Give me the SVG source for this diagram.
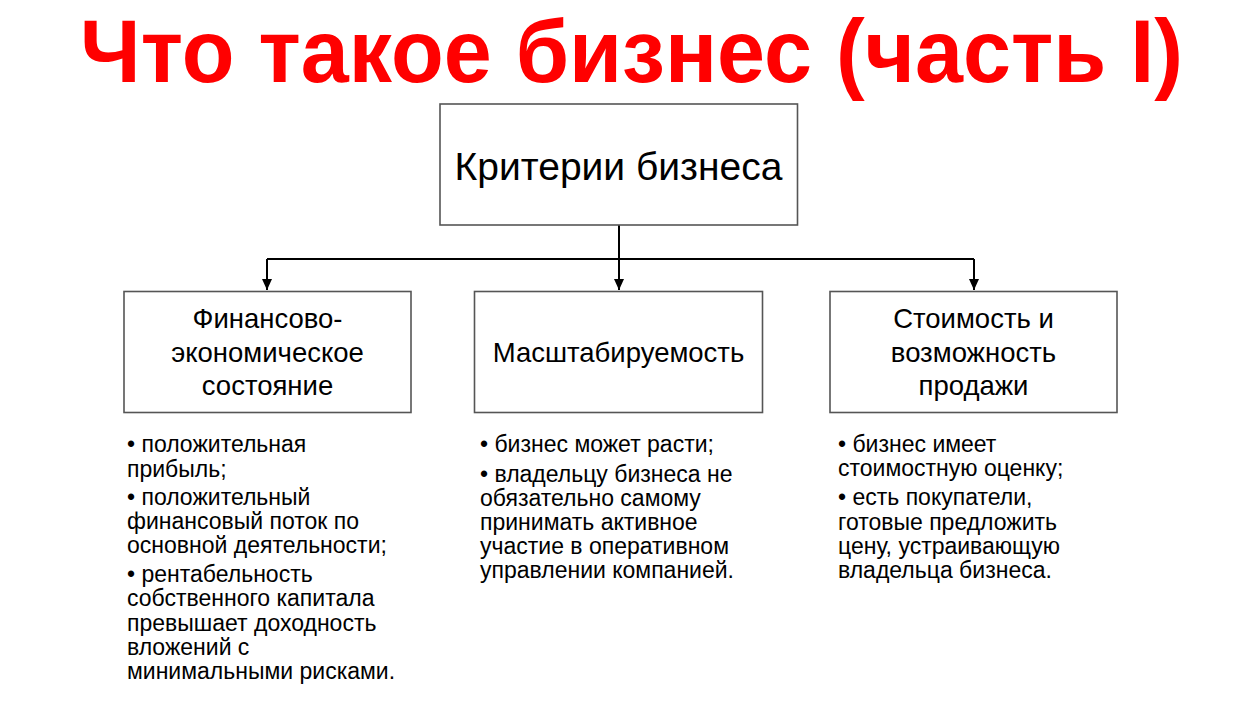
<svg xmlns="http://www.w3.org/2000/svg" width="1251" height="704" viewBox="0 0 1251 704">
<defs>
<marker id="arr" markerWidth="12" markerHeight="10" refX="11" refY="5" orient="auto" markerUnits="userSpaceOnUse" viewBox="0 0 12 10">
<path d="M0,0 L11,5 L0,10 Z" fill="#000"/>
</marker>
<style>
.box{fill:#fff;stroke:#555;stroke-width:1.6}
.lbl{font-family:"Liberation Sans",Arial,sans-serif;fill:#000;text-anchor:middle}
.bul{font-family:"Liberation Sans",Arial,sans-serif;fill:#000;font-size:23px}
.ln{stroke:#000;stroke-width:2;fill:none}
</style>
</defs>
<rect width="1251" height="704" fill="#fff"/>
<text x="80" y="82" font-family="'Liberation Sans',Arial,sans-serif" font-weight="bold" font-size="89" fill="#ff0000" textLength="1103" lengthAdjust="spacingAndGlyphs">Что такое бизнес (часть I)</text>
<g id="connectors">
<path class="ln" d="M619,225 V259"/>
<path class="ln" d="M267,259 H974"/>
<path class="ln" d="M267,259 V290" marker-end="url(#arr)"/>
<path class="ln" d="M619,259 V290" marker-end="url(#arr)"/>
<path class="ln" d="M974,259 V290" marker-end="url(#arr)"/>
</g>
<g id="node-root">
<rect class="box" x="440" y="104" width="357.5" height="121"/>
<text class="lbl" x="618.5" y="180" font-size="39">Критерии бизнеса</text>
</g>
<g id="node-fin">
<rect class="box" x="124" y="291.5" width="287" height="121"/>
<text class="lbl" x="267.5" font-size="27.5"><tspan x="267.5" y="328">Финансово-</tspan><tspan x="267.5" y="361.5">экономическое</tspan><tspan x="267.5" y="395">состояние</tspan></text>
</g>
<g id="node-scale">
<rect class="box" x="474.5" y="291.5" width="288" height="121"/>
<text class="lbl" x="618.5" y="361.5" font-size="27.5">Масштабируемость</text>
</g>
<g id="node-value">
<rect class="box" x="830" y="291.5" width="287" height="121"/>
<text class="lbl" x="973.5" font-size="27.5"><tspan x="973.5" y="328">Стоимость и</tspan><tspan x="973.5" y="361.5">возможность</tspan><tspan x="973.5" y="395">продажи</tspan></text>
</g>
<g id="list-fin">
<text class="bul"><tspan x="127" y="452">• положительная</tspan><tspan x="127" y="477">прибыль;</tspan><tspan x="127" y="505">• положительный</tspan><tspan x="127" y="529">финансовый поток по</tspan><tspan x="127" y="553">основной деятельности;</tspan><tspan x="127" y="582">• рентабельность</tspan><tspan x="127" y="606">собственного капитала</tspan><tspan x="127" y="631">превышает доходность</tspan><tspan x="127" y="655">вложений с</tspan><tspan x="127" y="679">минимальными рисками.</tspan></text>
</g>
<g id="list-scale">
<text class="bul"><tspan x="480" y="452">• бизнес может расти;</tspan><tspan x="480" y="482">• владельцу бизнеса не</tspan><tspan x="480" y="506">обязательно самому</tspan><tspan x="480" y="530">принимать активное</tspan><tspan x="480" y="554">участие в оперативном</tspan><tspan x="480" y="578">управлении компанией.</tspan></text>
</g>
<g id="list-value">
<text class="bul"><tspan x="838" y="452">• бизнес имеет</tspan><tspan x="838" y="476">стоимостную оценку;</tspan><tspan x="838" y="505">• есть покупатели,</tspan><tspan x="838" y="530">готовые предложить</tspan><tspan x="838" y="554">цену, устраивающую</tspan><tspan x="838" y="578">владельца бизнеса.</tspan></text>
</g>
</svg>
